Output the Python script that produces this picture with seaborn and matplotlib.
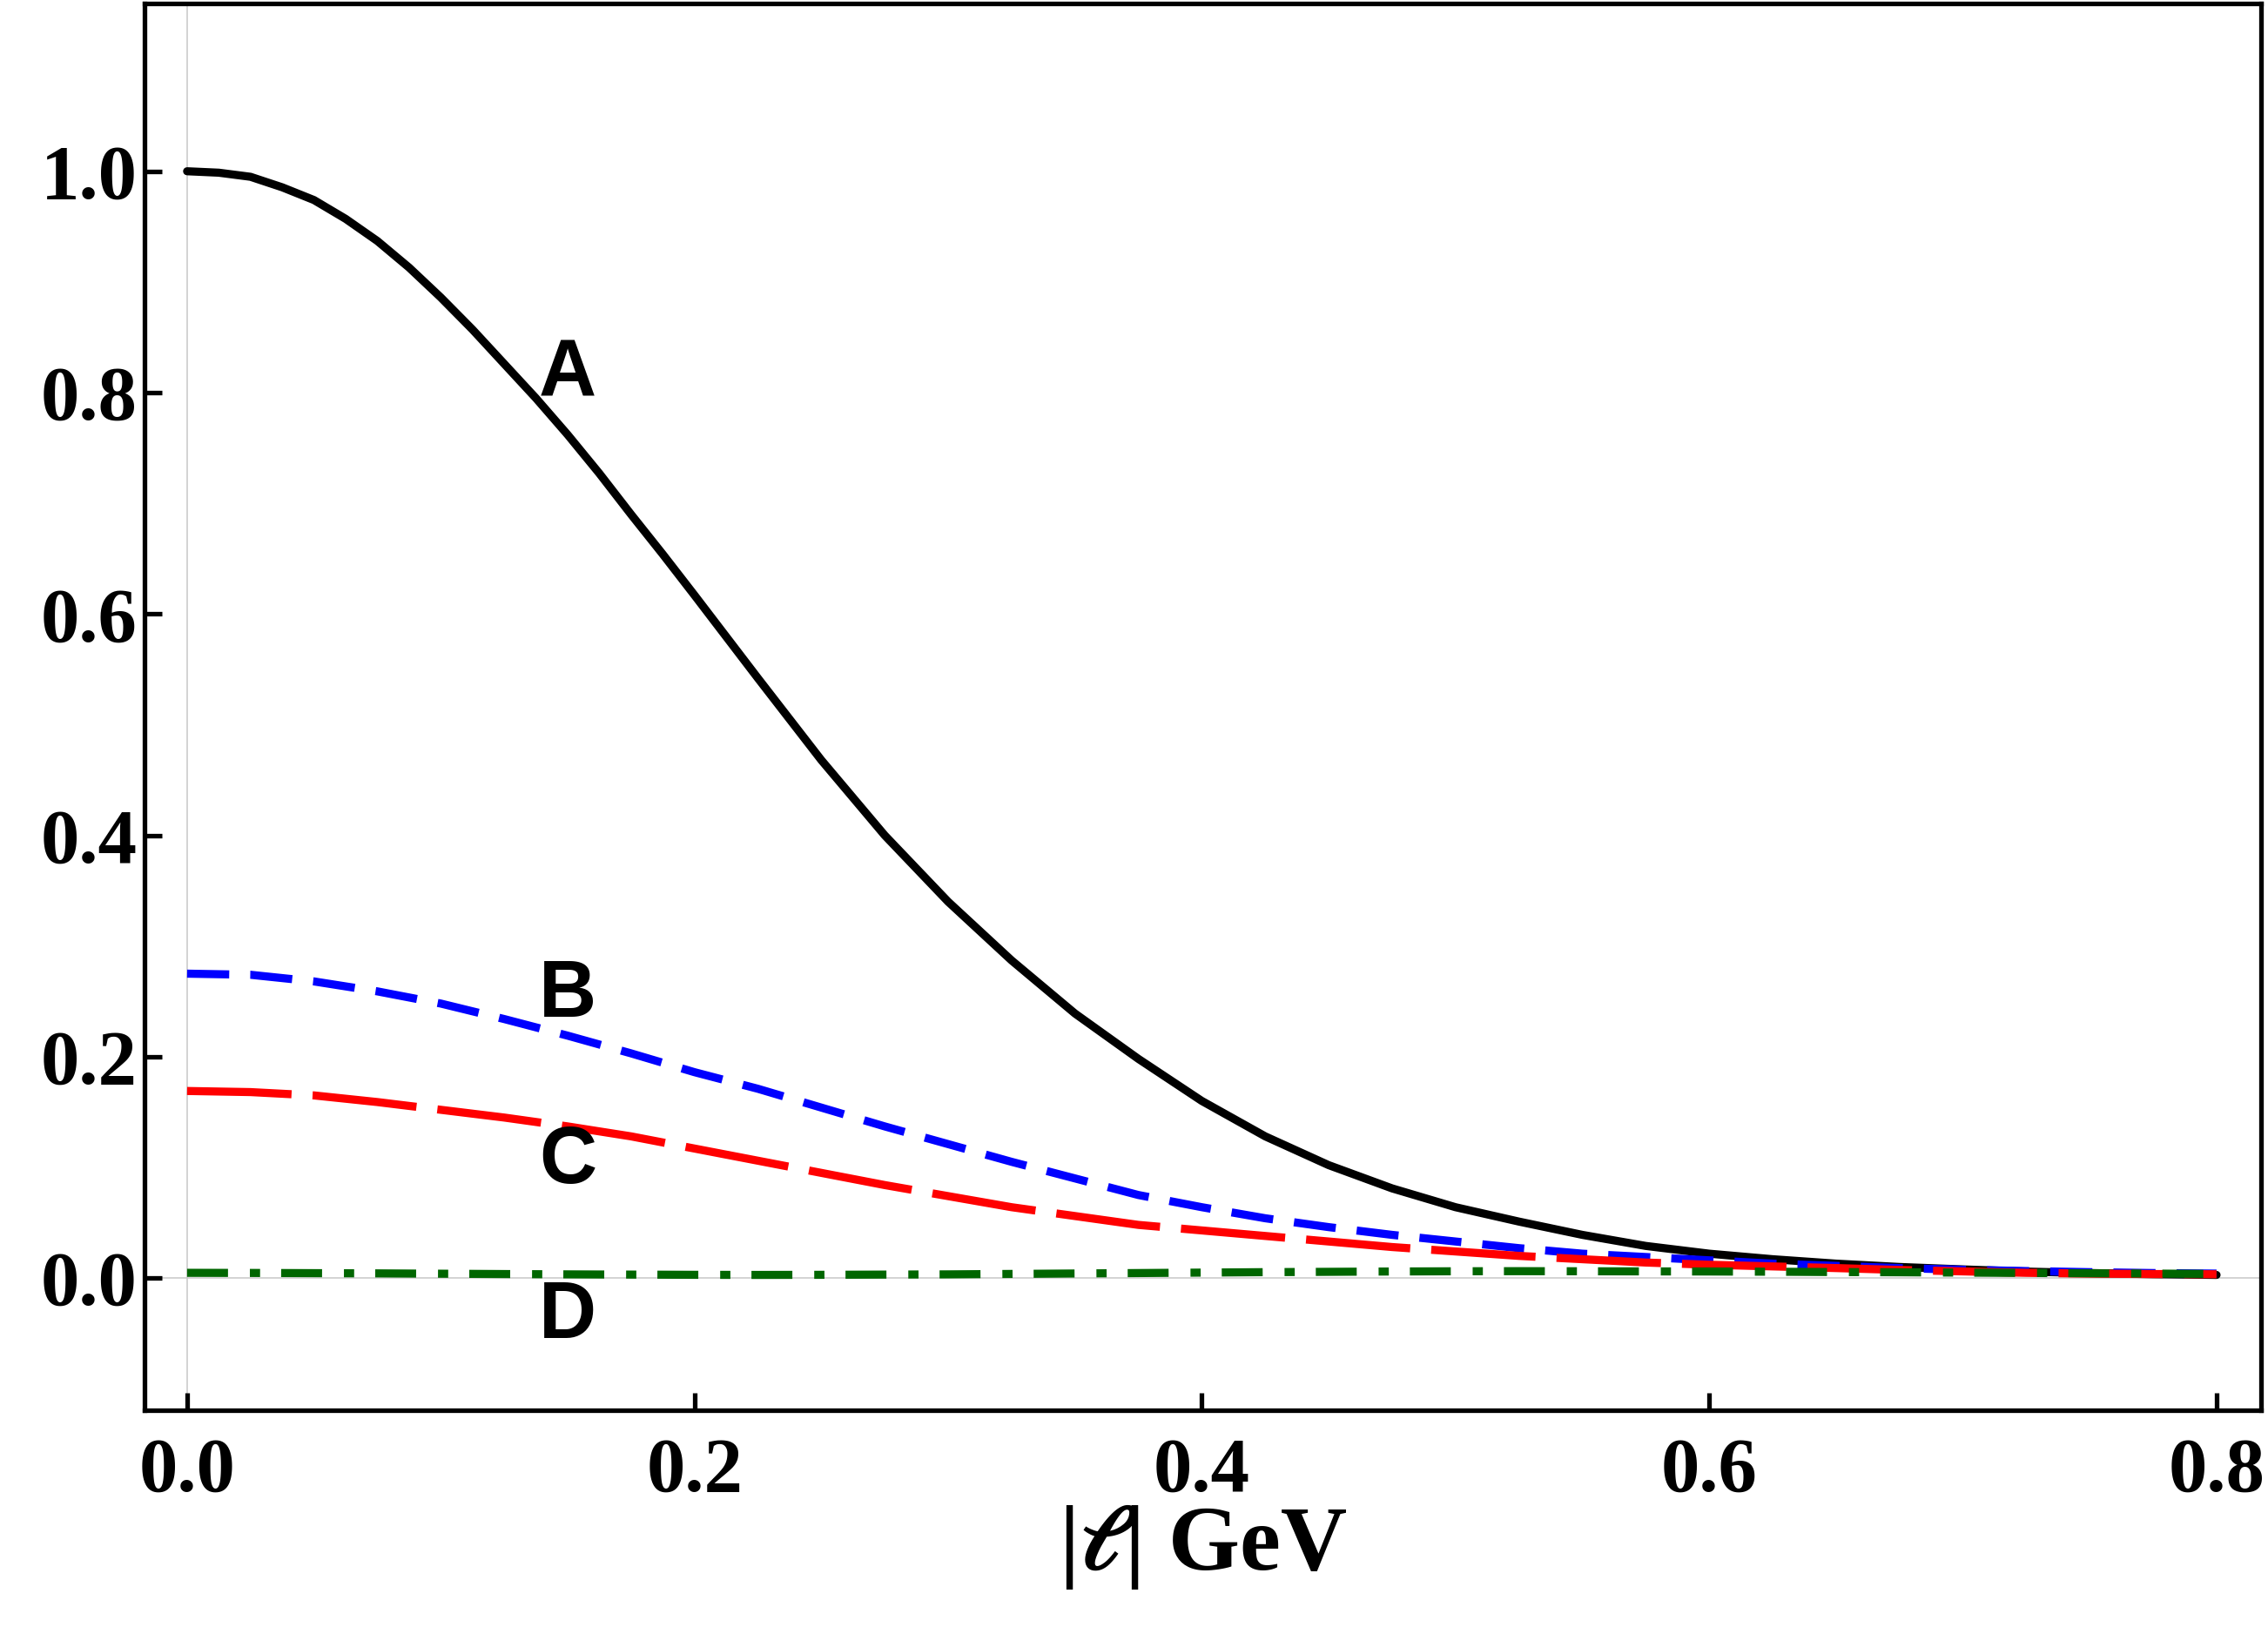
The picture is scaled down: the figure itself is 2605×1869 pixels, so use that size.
import matplotlib
matplotlib.use("Agg")
import matplotlib.pyplot as plt
import pandas as pd
import seaborn as sns

# |l| in GeV
l_gev = [0.000, 0.025, 0.050, 0.075, 0.100, 0.125, 0.150, 0.175, 0.200, 0.225,
         0.250, 0.275, 0.300, 0.325, 0.350, 0.375, 0.400, 0.425, 0.450, 0.475,
         0.500, 0.525, 0.550, 0.575, 0.600, 0.625, 0.650, 0.675, 0.700, 0.725,
         0.750, 0.775, 0.800]

# curve A is read a bit finer near the top, where it bends most
l_gev_a = [0.000, 0.0125, 0.025, 0.0375, 0.050, 0.0625, 0.075, 0.0875, 0.100, 0.1125,
           0.125, 0.1375, 0.150, 0.1625, 0.175, 0.1875, 0.200, 0.225,
           0.250, 0.275, 0.300, 0.325, 0.350, 0.375, 0.400, 0.425, 0.450, 0.475,
           0.500, 0.525, 0.550, 0.575, 0.600, 0.625, 0.650, 0.675, 0.700, 0.725,
           0.750, 0.775, 0.800]
curve_a = [1.000, 0.9987, 0.995, 0.9855, 0.974, 0.957, 0.937, 0.913, 0.886, 0.857,
           0.826, 0.795, 0.762, 0.727, 0.690, 0.654, 0.617, 0.542,
           0.468, 0.400, 0.340, 0.287, 0.239, 0.198, 0.160, 0.128, 0.102, 0.081,
           0.064, 0.051, 0.039, 0.029, 0.022, 0.017, 0.013, 0.010, 0.0078, 0.0058,
           0.0045, 0.0035, 0.0028]

curve_b = [0.275, 0.274, 0.268, 0.259, 0.248, 0.234, 0.219, 0.203, 0.186, 0.171,
           0.154, 0.137, 0.121, 0.105, 0.090, 0.075, 0.064, 0.054, 0.046, 0.039,
           0.033, 0.027, 0.022, 0.019, 0.016, 0.013, 0.011, 0.009, 0.0075, 0.0063,
           0.0053, 0.0045, 0.0040]

curve_c = [0.169, 0.168, 0.165, 0.159, 0.152, 0.145, 0.137, 0.128, 0.117, 0.106,
           0.095, 0.084, 0.074, 0.064, 0.056, 0.048, 0.043, 0.038, 0.033, 0.028,
           0.024, 0.020, 0.017, 0.014, 0.012, 0.0105, 0.009, 0.0073, 0.006, 0.0047,
           0.004, 0.0036, 0.0034]

curve_d = [0.0047, 0.0046, 0.0044, 0.0042, 0.0039, 0.0036, 0.0033, 0.0031, 0.0029, 0.0028,
           0.0029, 0.0031, 0.0033, 0.0037, 0.0041, 0.0045, 0.0049, 0.0053, 0.0056, 0.0059,
           0.0061, 0.0062, 0.0061, 0.0060, 0.0059, 0.0057, 0.0054, 0.0052, 0.0049, 0.0046,
           0.0043, 0.0040, 0.0037]

curve_names = ["A", "B", "C", "D"]
label_x = [0.15, 0.15, 0.15, 0.15]
label_y = [0.797, 0.236, 0.086, -0.054]   # text baselines

xticks = [0.0, 0.2, 0.4, 0.6, 0.8]
yticks = [0.0, 0.2, 0.4, 0.6, 0.8, 1.0]

sns.set_theme(style="white")
plt.rcParams["font.family"] = ["Liberation Serif", "DejaVu Serif"]
plt.rcParams["mathtext.fontset"] = "custom"
plt.rcParams["mathtext.it"] = "STIXGeneral:italic:bold"
plt.rcParams["mathtext.rm"] = "Liberation Serif:bold"
plt.rcParams["mathtext.bf"] = "Liberation Serif:bold"
for key in ["text.color", "axes.labelcolor", "xtick.color", "ytick.color", "axes.edgecolor"]:
    plt.rcParams[key] = "black"

df = pd.DataFrame({"l": l_gev, "B": curve_b, "C": curve_c, "D": curve_d})

fig = plt.figure(figsize=(13.025, 9.345), dpi=200)
ax = fig.add_axes([0.0637, 0.1332, 0.9333, 0.8646])

lw = 3.35
ax.axhline(0, color="#c8c8c8", lw=0.55, zorder=0)
ax.axvline(0, color="#c8c8c8", lw=0.55, zorder=0)

sns.lineplot(x=l_gev_a, y=curve_a, ax=ax, color="black", linewidth=lw, sort=False,
             solid_joinstyle="round")
sns.lineplot(data=df, x="l", y="B", ax=ax, color="#0000ff", linewidth=lw, sort=False,
             linestyle=(0, (5.2, 2.6)))
sns.lineplot(data=df, x="l", y="C", ax=ax, color="#ff0000", linewidth=lw, sort=False,
             linestyle=(0, (12.9, 2.6)))
sns.lineplot(data=df, x="l", y="D", ax=ax, color="#006600", linewidth=lw, sort=False,
             linestyle=(0, (5.05, 2.7, 1.26, 2.6)))

for name, lx, ly in zip(curve_names, label_x, label_y):
    ax.text(lx, ly, name, ha="center", va="baseline", fontsize=33, color="black",
            fontweight="bold", family=["Liberation Sans", "DejaVu Sans"])

ax.set_xlim(-0.0168, 0.8176)
ax.set_ylim(-0.1195, 1.1515)
ax.set_xticks(xticks)
ax.set_yticks(yticks)
ax.set_xticklabels([f"{t:.1f}" for t in xticks])
ax.set_yticklabels([f"{t:.1f}" for t in yticks])
ax.tick_params(axis="both", direction="in", length=7.2, width=1.9, labelsize=32,
               colors="black", bottom=True, left=True, top=False, right=False)
ax.tick_params(axis="x", pad=11)
ax.tick_params(axis="y", pad=3)
for lab in ax.get_xticklabels() + ax.get_yticklabels():
    lab.set_fontweight("bold")

for sp in ax.spines.values():
    sp.set_visible(True)
    sp.set_color("black")
    sp.set_linewidth(1.9)

ax.set_xlabel("|$\\mathit{\u2113}$| GeV", fontsize=38, fontweight="bold", color="black")
ax.xaxis.label.set_va("baseline")
ax.xaxis.set_label_coords(0.5, -0.1132)
ax.set_ylabel("")

fig.savefig("out.png", dpi=200)
